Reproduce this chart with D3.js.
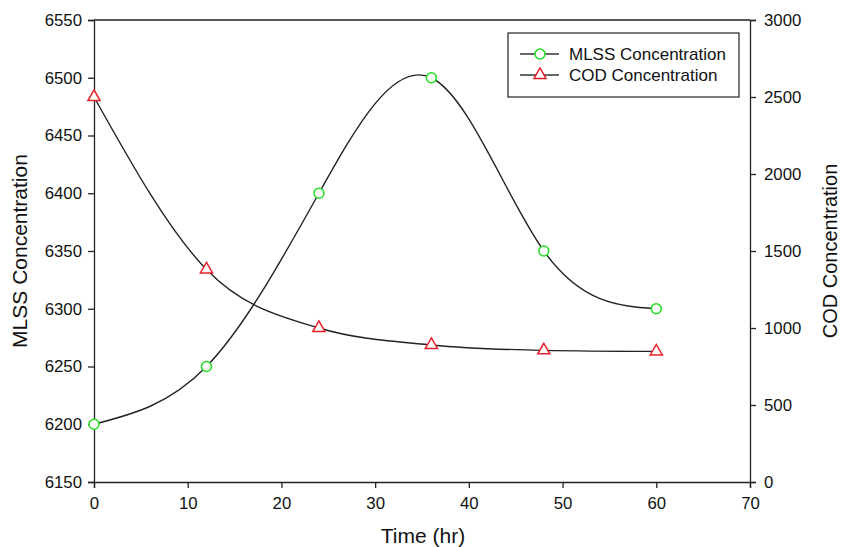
<!DOCTYPE html>
<html>
<head>
<meta charset="utf-8">
<script src="https://cdn.jsdelivr.net/npm/d3@7"></script>
<style>
  body { margin: 0; background: #fff; }
  text { font-family: "Liberation Sans", Arial, sans-serif; fill: #111; }
</style>
</head>
<body>
<svg id="chart"></svg>
<script>
// data
var times = [0, 12, 24, 36, 48, 60];
var mlss = [6200, 6250, 6400, 6500, 6350, 6300];
var cod = [2500, 1380, 1000, 890, 855, 848];
var xTicks = [0, 10, 20, 30, 40, 50, 60, 70];
var leftTicks = [6150, 6200, 6250, 6300, 6350, 6400, 6450, 6500, 6550];
var rightTicks = [0, 500, 1000, 1500, 2000, 2500, 3000];

var svgWidth = 841, svgHeight = 547;
var plotLeft = 94, plotRight = 750, plotTop = 20, plotBottom = 482;

var svg = d3.select("#chart")
  .attr("width", svgWidth)
  .attr("height", svgHeight);

var xScale = d3.scaleLinear().domain([0, 70]).range([plotLeft, plotRight]);
var yLeft = d3.scaleLinear().domain([6150, 6550]).range([plotBottom, plotTop]);
var yRight = d3.scaleLinear().domain([0, 3000]).range([plotBottom, plotTop]);

// top frame line
svg.append("line")
  .attr("x1", plotLeft).attr("x2", plotRight)
  .attr("y1", plotTop).attr("y2", plotTop)
  .attr("stroke", "#222").attr("stroke-width", 1.3);

var xAxis = d3.axisBottom(xScale).tickValues(xTicks).tickSize(6).tickPadding(9);
var gx = svg.append("g")
  .attr("transform", "translate(0," + plotBottom + ")")
  .call(xAxis);

var gl = svg.append("g")
  .attr("transform", "translate(" + plotLeft + ",0)")
  .call(d3.axisLeft(yLeft).tickValues(leftTicks).tickFormat(d3.format("d")).tickSize(6).tickPadding(6));

var gr = svg.append("g")
  .attr("transform", "translate(" + plotRight + ",0)")
  .call(d3.axisRight(yRight).tickValues(rightTicks).tickFormat(d3.format("d")).tickSize(6).tickPadding(8));

[gx, gl, gr].forEach(function(g) {
  g.attr("font-size", 16.8).attr("font-family", "Liberation Sans, Arial, sans-serif");
  g.select(".domain").attr("stroke", "#222").attr("stroke-width", 1.3);
  g.selectAll(".tick line").attr("stroke", "#222").attr("stroke-width", 1.3);
  g.selectAll(".tick text").attr("fill", "#111");
});

// axis titles
svg.append("text")
  .attr("x", 423).attr("y", 543)
  .attr("text-anchor", "middle").attr("font-size", "21px")
  .text("Time (hr)");

svg.append("text")
  .attr("transform", "translate(27," + (plotTop + plotBottom) / 2 + ") rotate(-90)")
  .attr("text-anchor", "middle").attr("font-size", "21px")
  .text("MLSS Concentration");

svg.append("text")
  .attr("transform", "translate(837," + (plotTop + plotBottom) / 2 + ") rotate(-90)")
  .attr("text-anchor", "middle").attr("font-size", "20px")
  .text("COD Concentration");

// curves
var mlssLine = d3.line()
  .x(function(d, i) { return xScale(times[i]); })
  .y(function(d) { return yLeft(d); })
  .curve(d3.curveNatural);

var codLine = d3.line()
  .x(function(d, i) { return xScale(times[i]); })
  .y(function(d) { return yRight(d); })
  .curve(d3.curveMonotoneX);

svg.append("path").datum(cod)
  .attr("d", codLine)
  .attr("fill", "none").attr("stroke", "#222").attr("stroke-width", 1.4);

svg.append("path").datum(mlss)
  .attr("d", mlssLine)
  .attr("fill", "none").attr("stroke", "#222").attr("stroke-width", 1.4);

var tri = d3.symbol().type(d3.symbolTriangle).size(64);

svg.selectAll(".codPt")
  .data(cod)
  .enter()
  .append("path")
  .attr("class", "codPt")
  .attr("d", tri)
  .attr("transform", function(d, i) { return "translate(" + xScale(times[i]) + "," + yRight(d) + ")"; })
  .attr("fill", "#fff").attr("stroke", "#e8202a").attr("stroke-width", 1.5);

svg.selectAll(".mlssPt")
  .data(mlss)
  .enter()
  .append("circle")
  .attr("class", "mlssPt")
  .attr("cx", function(d, i) { return xScale(times[i]); })
  .attr("cy", function(d) { return yLeft(d); })
  .attr("r", 5)
  .attr("fill", "#fff").attr("stroke", "#22dd22").attr("stroke-width", 1.5);

// legend
var legend = svg.append("g");
legend.append("rect")
  .attr("x", 508).attr("y", 33)
  .attr("width", 231).attr("height", 64)
  .attr("fill", "#fff").attr("stroke", "#222").attr("stroke-width", 1.2);

var legendItems = [
  { name: "MLSS Concentration", shape: "circle", y: 54 },
  { name: "COD Concentration", shape: "triangle", y: 75 }
];

legendItems.forEach(function(item) {
  legend.append("line")
    .attr("x1", 520).attr("x2", 559)
    .attr("y1", item.y).attr("y2", item.y)
    .attr("stroke", "#333").attr("stroke-width", 1.4);
  if (item.shape == "circle") {
    legend.append("circle")
      .attr("cx", 540).attr("cy", item.y).attr("r", 5)
      .attr("fill", "#fff").attr("stroke", "#22dd22").attr("stroke-width", 1.5);
  } else {
    legend.append("path")
      .attr("d", tri)
      .attr("transform", "translate(540," + item.y + ")")
      .attr("fill", "#fff").attr("stroke", "#e8202a").attr("stroke-width", 1.5);
  }
  legend.append("text")
    .attr("x", 569).attr("y", item.y + 6)
    .attr("font-size", "17px")
    .text(item.name);
});
</script>
</body>
</html>
